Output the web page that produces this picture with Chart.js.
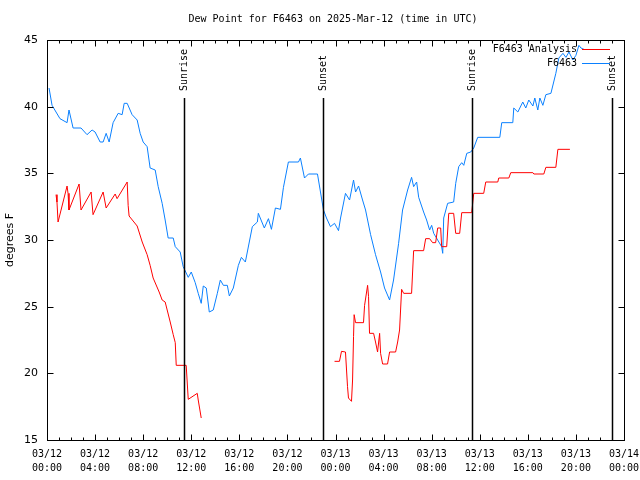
<!DOCTYPE html>
<html>
<head>
<meta charset="utf-8">
<script src="https://cdn.jsdelivr.net/npm/chart.js@4/dist/chart.umd.min.js"></script>
<style>
  html, body { margin: 0; padding: 0; background: #fff; }
  canvas { display: block; }
</style>
</head>
<body>
<canvas id="dew" width="640" height="480"></canvas>
<script>
// hours since 03/12 00:00 UTC
const stationHours = [0.17, 0.42, 1.08, 1.67, 1.83, 2.17, 2.83, 3.33, 3.75, 4.0, 4.42, 4.67, 4.92, 5.17, 5.5, 5.92,
  6.25, 6.42, 6.67, 7.08, 7.5, 7.75, 8.0, 8.33, 8.58, 9.0, 9.25, 9.58, 9.83, 10.08, 10.5, 10.67, 11.08, 11.33,
  11.75, 12.0, 12.33, 12.58, 12.83, 13.0, 13.25, 13.5, 13.83, 14.17, 14.42, 14.67, 15.0, 15.17, 15.5, 15.92,
  16.17, 16.5, 17.08, 17.5, 17.58, 18.08, 18.42, 18.67, 19.0, 19.42, 19.67, 20.08, 20.92, 21.08, 21.42, 21.75,
  22.5, 22.75, 23.0, 23.25, 23.58, 23.92, 24.25, 24.42, 24.83, 25.17, 25.5, 25.67, 25.92, 26.25, 26.5, 26.92,
  27.33, 27.75, 28.08, 28.5, 28.83, 29.25, 29.58, 30.0, 30.33, 30.5, 30.75, 30.92, 31.33, 31.58, 31.83, 32.0,
  32.17, 32.5, 32.83, 32.92, 33.0, 33.33, 33.83, 34.0, 34.25, 34.5, 34.67, 34.92, 35.25, 35.5, 35.83, 37.67,
  37.83, 38.75, 38.83, 39.17, 39.58, 39.83, 40.08, 40.42, 40.58, 40.83, 41.0, 41.25, 41.5, 41.92, 42.33, 42.58,
  42.92, 43.17, 43.42, 43.75, 44.0, 44.25, 44.42, 44.67];
const stationDew = [41.4, 40.1, 39.1, 38.8, 39.75, 38.4, 38.4, 37.9, 38.25, 38.1, 37.35, 37.35, 38.0, 37.35, 38.8, 39.5,
  39.4, 40.25, 40.25, 39.4, 39.0, 38.0, 37.35, 37.0, 35.4, 35.25, 34.0, 32.75, 31.5, 30.15, 30.15, 29.5, 29.1, 28.0,
  27.2, 27.6, 26.8, 26.0, 25.25, 26.55, 26.4, 24.6, 24.75, 26.0, 27.0, 26.6, 26.6, 25.8, 26.4, 28.1,
  28.7, 28.35, 31.0, 31.35, 32.0, 30.9, 31.6, 30.8, 32.4, 32.3, 33.95, 35.85, 35.85, 36.15, 34.65, 34.95,
  34.95, 33.6, 32.25, 31.65, 31.0, 31.25, 30.7, 31.65, 33.5, 33.0, 34.5, 33.6, 34.05, 33.0, 32.25, 30.4,
  28.9, 27.6, 26.4, 25.5, 27.0, 29.75, 32.25, 33.75, 34.7, 34.0, 34.35, 33.2, 32.1, 31.5, 30.75, 31.1,
  30.5, 30.0, 29.5, 29.0, 31.65, 32.75, 32.85, 34.25, 35.5, 35.8, 35.6, 36.5, 36.6, 36.9, 37.7, 37.7,
  38.8, 38.8, 39.9, 39.6, 40.35, 39.9, 40.5, 40.05, 40.65, 39.75, 40.65, 40.1, 40.9, 41.0, 42.5, 43.65,
  44.0, 43.7, 44.1, 43.5, 43.85, 44.6, 44.4, 44.3];

const analysisHours = [0.75, 0.83, 0.92, 1.67, 1.75, 1.83, 2.67, 2.83, 3.67, 3.83, 4.67, 4.92, 5.67, 5.83, 6.67, 6.75,
  6.83, 7.5, 7.92, 8.33, 8.58, 8.83, 9.33, 9.58, 9.83, 10.25, 10.5, 10.67, 10.75, 11.58, 11.75, 12.5, 12.58, 12.83,
  18.0,
  23.92, 24.33, 24.5, 24.83, 25.0, 25.08, 25.33, 25.42, 25.5, 25.55, 25.67, 26.33, 26.42, 26.67, 26.75, 26.83,
  27.17, 27.33, 27.5, 27.67, 27.75, 27.92, 28.33, 28.5, 29.0, 29.17, 29.33, 29.5, 29.67, 30.33, 30.5, 31.33,
  31.5, 31.83, 32.08, 32.33, 32.5, 32.75, 32.83, 33.25, 33.42, 33.83, 34.0, 34.33, 34.5, 35.33, 35.5, 36.33,
  36.5, 37.5, 37.58, 38.42, 38.58, 40.42, 40.5, 41.33, 41.5, 42.33, 42.5, 43.5];
const analysisDew = [33.4, 32.85, 31.35, 34.05, 33.5, 32.25, 34.2, 32.25, 33.6, 31.9, 33.6, 32.4, 33.45, 33.1, 34.35, 32.6,
  31.8, 31.05, 29.85, 28.9, 28.1, 27.15, 26.1, 25.5, 25.35, 23.85, 22.9, 22.3, 20.6, 20.6, 18.05, 18.5, 18.0, 16.65,
  null,
  20.9, 20.9, 21.65, 21.6, 19.0, 18.15, 17.9, 19.5, 22.75, 24.4, 23.8, 23.8, 25.1, 26.6, 25.75, 23.0,
  23.0, 22.35, 21.6, 23.0, 21.5, 20.7, 20.7, 21.6, 21.6, 22.35, 23.25, 26.3, 26.0, 26.0, 29.2, 29.2,
  30.1, 30.1, 29.8, 29.8, 30.9, 30.9, 29.5, 29.5, 32.0, 32.0, 30.5, 30.5, 32.05, 32.05, 33.5, 33.5,
  34.35, 34.35, 34.65, 34.65, 35.05, 35.05, 34.95, 34.95, 35.45, 35.45, 36.8, 36.8];

const sunHours = [11.42, 23.0, 35.33, 47.0];
const sunLabels = ['Sunrise', 'Sunset', 'Sunrise', 'Sunset'];

const seriesNames = ['F6463 Analysis', 'F6463'];
const seriesColors = ['#ff0000', '#0a80ff'];

const monoFont = '10px "DejaVu Sans Mono", monospace';

function toPoints(hours, values) {
  return hours.map((h, i) => ({ x: h, y: values[i] }));
}

const decorations = {
  id: 'decorations',
  afterDatasetsDraw(chart) {
    const ctx = chart.ctx;
    const a = chart.chartArea;
    const xs = chart.scales.x;
    const ys = chart.scales.y;
    ctx.save();

    // sunrise / sunset markers
    ctx.strokeStyle = '#000';
    ctx.lineWidth = 1.5;
    ctx.fillStyle = '#000';
    ctx.font = monoFont;
    sunHours.forEach((h, i) => {
      const px = Math.round(xs.getPixelForValue(h)) + 0.5;
      ctx.beginPath();
      ctx.moveTo(px, 98);
      ctx.lineTo(px, a.bottom);
      ctx.stroke();
      ctx.save();
      ctx.translate(px, 91);
      ctx.rotate(-Math.PI / 2);
      ctx.textAlign = 'left';
      ctx.textBaseline = 'middle';
      ctx.fillText(sunLabels[i], 0, 0);
      ctx.restore();
    });

    // legend
    ctx.textAlign = 'right';
    ctx.textBaseline = 'middle';
    seriesNames.forEach((name, i) => {
      const y = 49 + i * 14;
      ctx.fillStyle = '#000';
      ctx.fillText(name, 577, y);
      ctx.strokeStyle = seriesColors[i];
      ctx.lineWidth = 1;
      ctx.beginPath();
      ctx.moveTo(582, y + 0.5);
      ctx.lineTo(610, y + 0.5);
      ctx.stroke();
    });

    // border and inward ticks
    ctx.strokeStyle = '#000';
    ctx.lineWidth = 1;
    const L = Math.round(a.left) + 0.5, R = Math.round(a.right) + 0.5;
    const T = Math.round(a.top) + 0.5, B = Math.round(a.bottom) + 0.5;
    ctx.strokeRect(L, T, R - L, B - T);
    ctx.beginPath();
    for (let h = 0; h <= 48; h++) {
      const px = Math.round(xs.getPixelForValue(h)) + 0.5;
      const len = h % 4 === 0 ? 6 : 3;
      ctx.moveTo(px, B); ctx.lineTo(px, B - len);
      ctx.moveTo(px, T); ctx.lineTo(px, T + len);
    }
    for (let v = 15; v <= 45; v += 5) {
      const py = Math.round(ys.getPixelForValue(v)) + 0.5;
      ctx.moveTo(L, py); ctx.lineTo(L + 6, py);
      ctx.moveTo(R, py); ctx.lineTo(R - 6, py);
    }
    ctx.stroke();

    // title
    ctx.fillStyle = '#000';
    ctx.textAlign = 'center';
    ctx.textBaseline = 'middle';
    ctx.fillText('Dew Point for F6463 on 2025-Mar-12 (time in UTC)', 333, 19);
    ctx.restore();
  }
};

new Chart(document.getElementById('dew'), {
  type: 'line',
  data: {
    datasets: [{
      label: seriesNames[0],
      data: toPoints(analysisHours, analysisDew),
      borderColor: seriesColors[0],
      borderWidth: 1,
      pointRadius: 0,
      tension: 0,
      spanGaps: false
    }, {
      label: seriesNames[1],
      data: toPoints(stationHours, stationDew),
      borderColor: seriesColors[1],
      borderWidth: 1,
      pointRadius: 0,
      tension: 0
    }]
  },
  options: {
    responsive: false,
    animation: false,
    devicePixelRatio: 1,
    layout: { padding: { top: 40, right: 16, bottom: 0, left: 0 } },
    plugins: {
      legend: { display: false },
      title: { display: false },
      tooltip: { enabled: false }
    },
    scales: {
      x: {
        type: 'linear',
        min: 0,
        max: 48,
        afterFit(scale) {
          scale.height = 40;
          scale.paddingLeft = 0;
          scale.paddingRight = 0;
        },
        grid: { display: false, drawTicks: false },
        border: { display: false },
        ticks: {
          stepSize: 4,
          autoSkip: false,
          maxRotation: 0,
          padding: 7,
          color: '#000',
          font: { family: '"DejaVu Sans Mono", monospace', size: 10, lineHeight: 1.4 },
          callback(value) {
            const day = 12 + Math.floor(value / 24);
            const hh = value % 24;
            return ['03/' + day, String(hh).padStart(2, '0') + ':00'];
          }
        }
      },
      y: {
        min: 15,
        max: 45,
        afterFit(scale) { scale.width = 47; },
        grid: { display: false, drawTicks: false },
        border: { display: false },
        title: {
          display: true,
          text: 'degrees F',
          color: '#000',
          font: { family: '"DejaVu Sans", sans-serif', size: 11 },
          padding: { top: 4, bottom: 0 }
        },
        ticks: {
          stepSize: 5,
          padding: 9,
          color: '#000',
          font: { family: '"DejaVu Sans", sans-serif', size: 11 }
        }
      }
    }
  },
  plugins: [decorations]
});
</script>
</body>
</html>
